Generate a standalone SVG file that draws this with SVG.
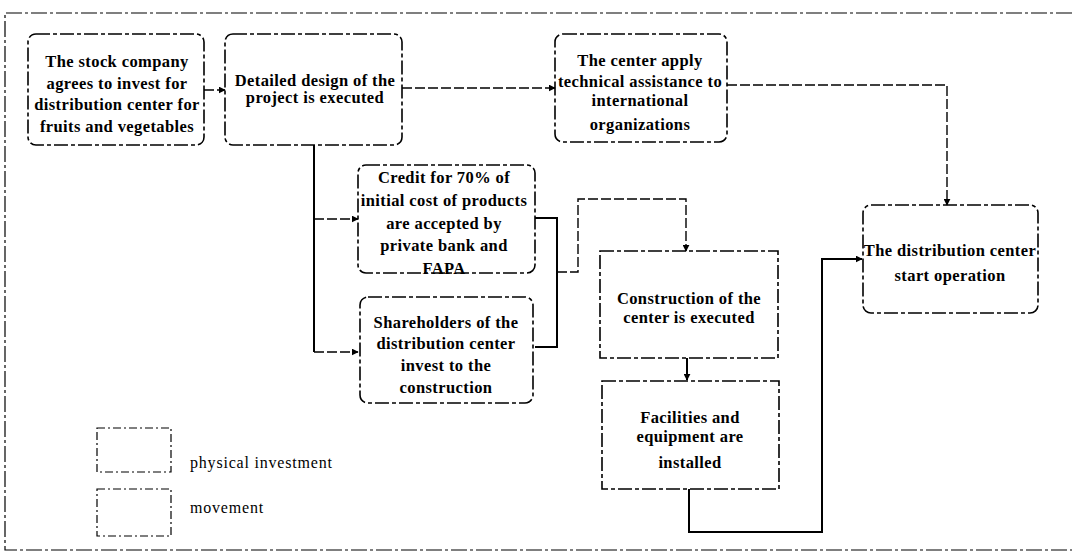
<svg xmlns="http://www.w3.org/2000/svg" width="1072" height="556" viewBox="0 0 1072 556">
  <style>
    .node rect { fill: none; stroke: #000; stroke-width: 1.6; stroke-dasharray: 14 3 4 3; }
    .node text, .legend text { font-family: "Liberation Serif", "Times New Roman", serif; font-weight: bold; font-size: 16.5px; letter-spacing: 0.4px; fill: #000; text-anchor: middle; }
    .legend text { text-anchor: start; font-weight: normal; font-size: 16px; letter-spacing: 0.8px; }
    .legend rect { fill: none; stroke: #000; stroke-width: 1.2; stroke-dasharray: 8 3 2 3; }
    .frame { fill: none; stroke: #000; stroke-width: 1.2; stroke-dasharray: 16 3 3 3; }
    .conn path { fill: none; stroke: #000; stroke-width: 1.4; stroke-dasharray: 10 3; }
    .conn path.solid { stroke-dasharray: none; stroke-width: 2; }
  </style>
  <defs>
    <marker id="arrow" viewBox="0 0 10 10" refX="9" refY="5" markerWidth="7" markerHeight="7" markerUnits="userSpaceOnUse" orient="auto">
      <path d="M0,0 L10,5 L0,10 z" fill="#000"/>
    </marker>
  </defs>
  <rect width="1072" height="556" fill="#fff"/>

  <!-- outer frame -->
  <path class="frame" d="M1072,13 L5,13 L5,550 L1072,550"/>

  <!-- connectors -->
  <g id="connectors" class="conn">
    <path d="M204,90 L225,90" marker-end="url(#arrow)"/>
    <path d="M402,88 L555,88" marker-end="url(#arrow)"/>
    <path d="M727,85 L947,85 L947,205" marker-end="url(#arrow)"/>
    <path class="solid" d="M314,145 L314,352"/>
    <path d="M314,219 L358,219" marker-end="url(#arrow)"/>
    <path d="M314,352 L358,352" marker-end="url(#arrow)"/>
    <path class="solid" d="M535,218 L557,218 L557,347 L535,347"/>
    <path d="M557,272 L578,272 L578,199 L686,199 L686,251" marker-end="url(#arrow)"/>
    <path class="solid" d="M687,358 L687,380" marker-end="url(#arrow)"/>
    <path class="solid" d="M689,489 L689,532 L822,532 L822,259 L862,259" marker-end="url(#arrow)"/>
  </g>

  <g id="stock-company" class="node">
    <rect x="28" y="34" width="176" height="111" rx="8"/>
    <text x="117" y="67">The stock company</text>
    <text x="117" y="89">agrees to invest for</text>
    <text x="117" y="110">distribution center for</text>
    <text x="117" y="132">fruits and vegetables</text>
  </g>

  <g id="detailed-design" class="node">
    <rect x="225" y="34" width="177" height="111" rx="8"/>
    <text x="315" y="86">Detailed design of the</text>
    <text x="315" y="103">project is executed</text>
  </g>

  <g id="technical-assistance" class="node">
    <rect x="555" y="34" width="172" height="108" rx="8"/>
    <text x="640" y="66">The center apply</text>
    <text x="640" y="87">technical assistance to</text>
    <text x="640" y="106">international</text>
    <text x="640" y="130">organizations</text>
  </g>

  <g id="credit" class="node">
    <rect x="358" y="165" width="177" height="108" rx="8"/>
    <text x="444" y="183">Credit for 70% of</text>
    <text x="444" y="206">initial cost of products</text>
    <text x="444" y="229">are accepted by</text>
    <text x="444" y="251">private bank and</text>
    <text x="444" y="274">FAPA</text>
  </g>

  <g id="shareholders" class="node">
    <rect x="360" y="297" width="173" height="106" rx="8"/>
    <text x="446" y="328">Shareholders of the</text>
    <text x="446" y="349">distribution center</text>
    <text x="446" y="371">invest to the</text>
    <text x="446" y="393">construction</text>
  </g>

  <g id="construction" class="node">
    <rect x="600" y="251" width="178" height="107"/>
    <text x="689" y="304">Construction of the</text>
    <text x="689" y="323">center is executed</text>
  </g>

  <g id="facilities" class="node">
    <rect x="602" y="381" width="177" height="108"/>
    <text x="690" y="423">Facilities and</text>
    <text x="690" y="442">equipment are</text>
    <text x="690" y="468">installed</text>
  </g>

  <g id="start-operation" class="node">
    <rect x="863" y="205" width="175" height="108" rx="8"/>
    <text x="950" y="256">The distribution center</text>
    <text x="950" y="281">start operation</text>
  </g>

  <g id="legend" class="legend">
    <rect x="97" y="428" width="74" height="44"/>
    <text x="190" y="468">physical investment</text>
    <rect x="97" y="489" width="74" height="47"/>
    <text x="190" y="513">movement</text>
  </g>
</svg>
